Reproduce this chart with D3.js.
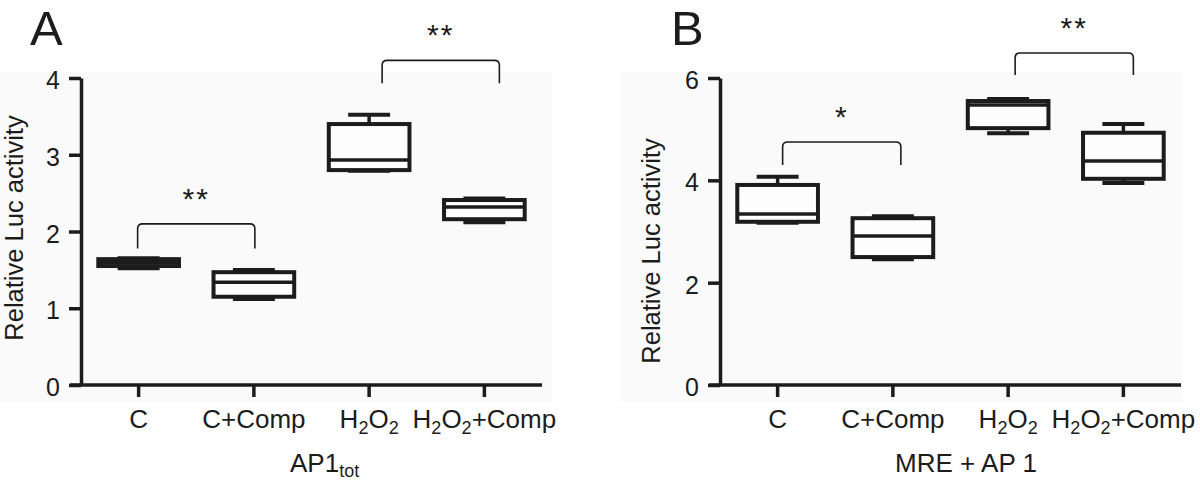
<!DOCTYPE html>
<html>
<head>
<meta charset="utf-8">
<script src="https://cdn.jsdelivr.net/npm/d3@7"></script>
<style>
body { margin: 0; background: #fff; }
svg text { font-family: "Liberation Sans", Arial, Helvetica, sans-serif; fill: #1c1c1c; }
</style>
</head>
<body>
<div id="chart"></div>
<script>

width = 1200
height = 483

// groups on the x axis
const categories = ["C", "C+Comp", "H2O2", "H2O2+Comp"]

// box stats per group: [min, q1, median, q3, max]
const boxesA = [
    [1.52, 1.55, 1.60, 1.64, 1.65],
    [1.12, 1.15, 1.34, 1.47, 1.50],
    [2.79, 2.80, 2.93, 3.40, 3.52],
    [2.12, 2.16, 2.32, 2.41, 2.43]
]
const boxesB = [
    [3.17, 3.19, 3.34, 3.91, 4.07],
    [2.46, 2.50, 2.91, 3.26, 3.30],
    [4.92, 5.02, 5.47, 5.55, 5.59],
    [3.95, 4.03, 4.38, 4.93, 5.10]
]

const ticksA = [0, 1, 2, 3, 4]
const ticksB = [0, 2, 4, 6]

// significance brackets (top of bracket and end of legs in axis units)
const sigA = [
    { from: 0, to: 1, top: 2.10, leg: 1.78, label: "**" },
    { from: 2, to: 3, top: 4.23, leg: 3.93, label: "**" }
]
const sigB = [
    { from: 0, to: 1, top: 4.75, leg: 4.30, label: "*" },
    { from: 2, to: 3, top: 6.49, leg: 6.06, label: "**" }
]

let svg = d3.select("#chart")
    .append("svg")
    .attr("width", width)
    .attr("height", height)

const INK = "#1c1c1c"

// writes H2O2 style labels with subscript digits
function chemText(text, label, subSize, shift) {
    const parts = label.match(/[A-Za-z+ ]+|\d/g)
    let sub = false
    parts.forEach(p => {
        if (/\d/.test(p)) {
            text.append("tspan").attr("dy", sub ? 0 : shift).style("font-size", subSize + "px").text(p)
            sub = true
        } else {
            text.append("tspan").attr("dy", sub ? -shift : 0).text(p)
            sub = false
        }
    })
}

function drawPanel(cfg) {
    const g = svg.append("g")

    // faint grey plot background as in the scan
    g.append("rect")
        .attr("x", cfg.bgX).attr("y", 72)
        .attr("width", cfg.bgW).attr("height", 330)
        .attr("fill", "#fafafa")

    const x = d3.scaleBand()
        .domain(categories)
        .range([cfg.left, cfg.right])
        .paddingInner(0.3)
        .paddingOuter(0.15)

    const y = d3.scaleLinear()
        .domain([0, d3.max(cfg.ticks)])
        .range([385, 78])

    const cx = d => x(d) + x.bandwidth() / 2

    // x axis
    const xAxis = g.append("g")
        .attr("transform", `translate(0, ${y(0)})`)
        .call(d3.axisBottom(x).tickSize(12).tickSizeOuter(0).tickFormat(""))
    xAxis.select(".domain").attr("d", `M${cfg.left - 11},0H${cfg.right}`)
    xAxis.selectAll("line, path").attr("stroke", INK).attr("stroke-width", 3.5)

    xAxis.selectAll(".tick").each(function(d) {
        const t = d3.select(this).append("text")
            .attr("y", 43)
            .attr("text-anchor", "middle")
            .style("font-size", "26px")
            .attr("fill", INK)
        chemText(t, d, 18, 6)
    })

    // y axis
    const yAxis = g.append("g")
        .attr("transform", `translate(${cfg.left}, 0)`)
        .call(d3.axisLeft(y).tickValues(cfg.ticks).tickFormat(d3.format("d"))
            .tickSize(12).tickSizeOuter(0).tickPadding(9))
    yAxis.selectAll("line, path").attr("stroke", INK).attr("stroke-width", 3.5)
    yAxis.selectAll("text")
        .attr("dy", "0.42em")
        .style("font-size", "25px")
        .attr("fill", INK)

    g.append("text")
        .attr("transform", `translate(${cfg.ylabX}, ${cfg.ylabY}) rotate(-90)`)
        .attr("text-anchor", "middle")
        .style("font-size", "25.5px")
        .text("Relative Luc activity")

    // boxes
    const boxes = g.selectAll(".box")
        .data(cfg.boxes.map((b, i) => ({ cat: categories[i], s: b })))
        .enter().append("g")

    const capW = x.bandwidth() * 0.52

    boxes.append("line")
        .attr("x1", d => cx(d.cat)).attr("x2", d => cx(d.cat))
        .attr("y1", d => y(d.s[0])).attr("y2", d => y(d.s[4]))
        .attr("stroke", INK).attr("stroke-width", 3.5)

    boxes.selectAll(".cap")
        .data(d => [d.s[0], d.s[4]].map(v => ({ cat: d.cat, v: v })))
        .enter().append("line")
        .attr("x1", d => cx(d.cat) - capW / 2).attr("x2", d => cx(d.cat) + capW / 2)
        .attr("y1", d => y(d.v)).attr("y2", d => y(d.v))
        .attr("stroke", INK).attr("stroke-width", 4)

    boxes.append("rect")
        .attr("x", d => x(d.cat))
        .attr("width", x.bandwidth())
        .attr("y", d => y(d.s[3]))
        .attr("height", d => y(d.s[1]) - y(d.s[3]))
        .attr("fill", "#fdfdfd")
        .attr("stroke", INK).attr("stroke-width", 4)

    boxes.append("line")
        .attr("x1", d => x(d.cat)).attr("x2", d => x(d.cat) + x.bandwidth())
        .attr("y1", d => y(d.s[2])).attr("y2", d => y(d.s[2]))
        .attr("stroke", INK).attr("stroke-width", 3.5)

    // significance brackets
    cfg.sigs.forEach((s, i) => {
        const x1 = cx(categories[s.from]) + cfg.nudge[i][0]
        const x2 = cx(categories[s.to]) + cfg.nudge[i][1]
        const yt = y(s.top), yl = y(s.leg), r = 5
        g.append("path")
            .attr("d", `M${x1},${yl}V${yt + r}Q${x1},${yt} ${x1 + r},${yt}H${x2 - r}Q${x2},${yt} ${x2},${yt + r}V${yl}`)
            .attr("fill", "none")
            .attr("stroke", INK)
            .attr("stroke-width", 1.6)
        g.append("text")
            .attr("x", (x1 + x2) / 2)
            .attr("y", yt - 15)
            .attr("text-anchor", "middle")
            .style("font-size", "30px")
            .style("letter-spacing", "2px")
            .text(s.label)
    })

    // panel letter
    g.append("text")
        .attr("x", cfg.letterX)
        .attr("y", 45)
        .style("font-size", "49px")
        .text(cfg.letter)
}

drawPanel({
    letter: "A", letterX: 30,
    left: 81, right: 542,
    bgX: 0, bgW: 552,
    ticks: ticksA, boxes: boxesA, sigs: sigA,
    nudge: [[-1, 1], [13, 15]],
    ylabX: 23, ylabY: 228
})

drawPanel({
    letter: "B", letterX: 671,
    left: 720, right: 1181,
    bgX: 620, bgW: 562,
    ticks: ticksB, boxes: boxesB, sigs: sigB,
    nudge: [[5, 8], [7, 10]],
    ylabX: 660, ylabY: 251
})

// x axis titles
let titleA = svg.append("text")
    .attr("x", 290)
    .attr("y", 472)
    .style("font-size", "26px")
titleA.append("tspan").text("AP1")
titleA.append("tspan").attr("dy", 5).style("font-size", "18px").text("tot")

svg.append("text")
    .attr("x", 966)
    .attr("y", 472)
    .attr("text-anchor", "middle")
    .style("font-size", "26px")
    .text("MRE + AP 1")

</script>
</body>
</html>
